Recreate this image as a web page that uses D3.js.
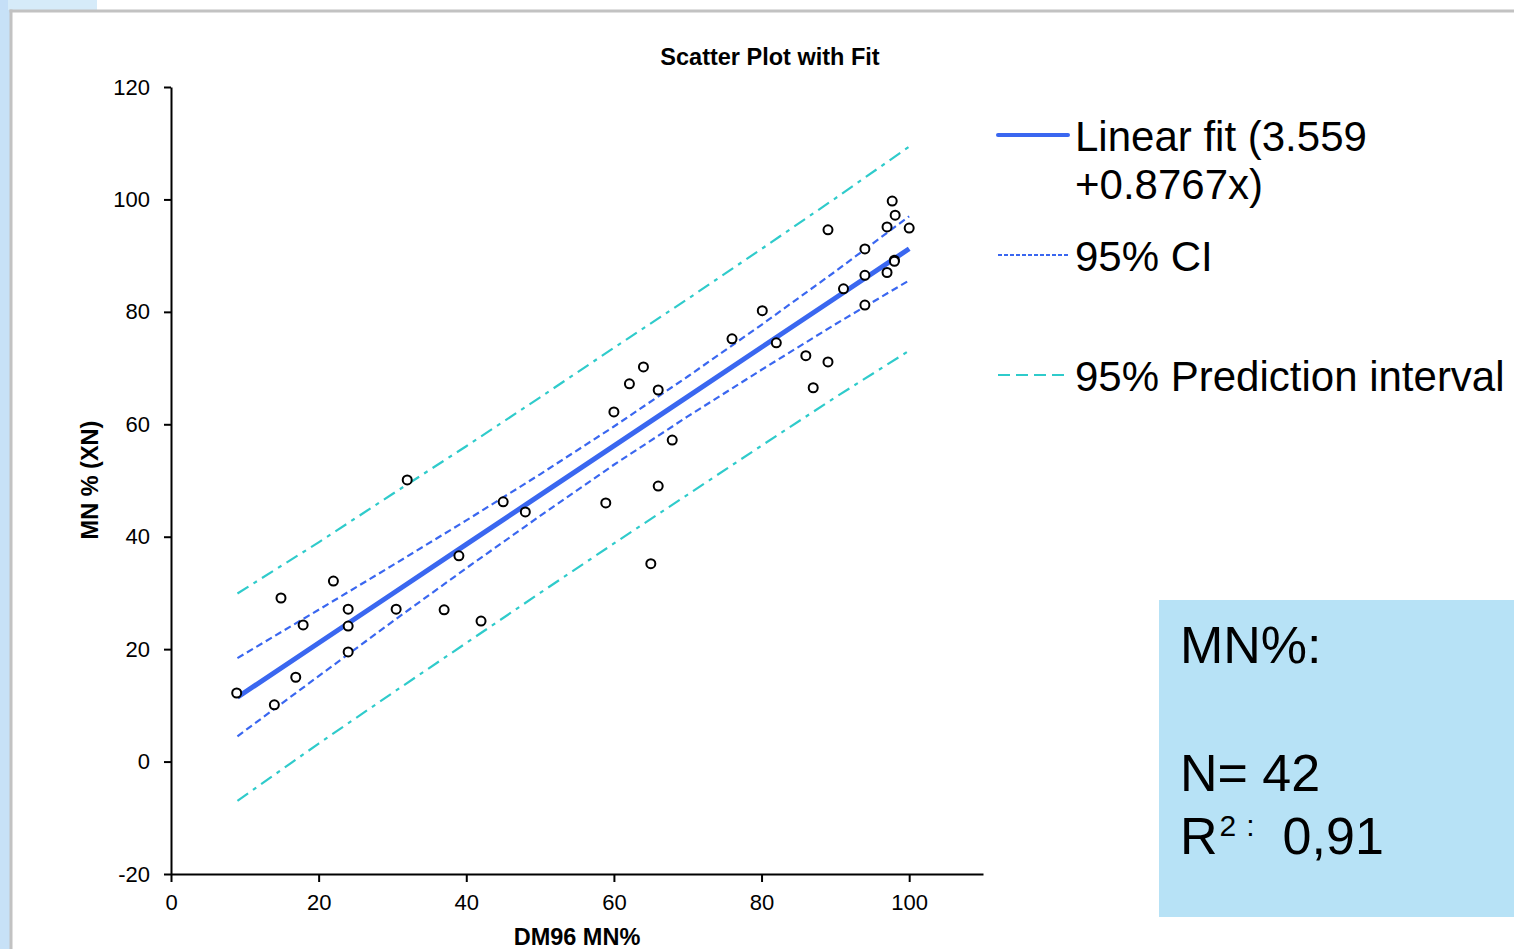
<!DOCTYPE html>
<html>
<head>
<meta charset="utf-8">
<script src="https://cdn.jsdelivr.net/npm/d3@7"></script>
<style>
  body { margin: 0; background: #fff; }
  svg { display: block; font-family: "Liberation Sans", Arial, sans-serif; }
</style>
</head>
<body>
<svg id="chart" width="1514" height="949"></svg>
<script>
// scatter points (DM96 MN%, MN% XN)
var dm96 = [8.9, 14.0, 14.9, 16.9, 17.9, 22.0, 24.0, 24.0, 24.0, 30.5, 32.0, 37.0, 39.0, 42.0,
            45.0, 48.0, 58.9, 60.0, 62.1, 64.0, 66.0, 66.0, 65.0, 67.9, 76.0, 80.1, 82.0, 86.0,
            87.0, 89.0, 89.0, 91.1, 94.0, 94.0, 94.0, 97.0, 97.0, 97.7, 98.1, 98.0, 98.0, 100.0];
var mnXN = [12.2, 10.1, 29.1, 15.0, 24.3, 32.1, 27.1, 24.1, 19.5, 27.1, 50.1, 27.0, 36.6, 25.0,
            46.2, 44.4, 46.0, 62.2, 67.2, 70.2, 66.1, 49.0, 35.2, 57.2, 75.2, 80.2, 74.5, 72.2,
            66.5, 94.6, 71.1, 84.1, 91.2, 86.5, 81.2, 95.1, 87.0, 99.7, 97.2, 89.2, 89.0, 94.9];

// fit line and bands, read at these x values
var bandX   = [9, 20, 30, 40, 50, 60, 70, 80, 90, 100];
var fitY    = [11.45, 21.09, 29.86, 38.63, 47.39, 56.16, 64.93, 73.70, 82.46, 91.23];
var ciUp    = [18.4, 27.0, 34.9, 42.9, 51.1, 59.6, 68.5, 77.7, 87.2, 97.0];
var ciLow   = [4.5, 15.2, 24.9, 34.4, 43.7, 52.8, 61.4, 69.7, 77.8, 85.6];
var piUp    = [29.9, 39.0, 47.6, 56.1, 64.8, 73.6, 82.3, 91.2, 100.2, 109.4];
var piLow   = [-7.0, 3.2, 12.2, 21.1, 30.0, 38.8, 47.5, 56.2, 64.8, 73.1];

var xTicks = [0, 20, 40, 60, 80, 100];
var yTicks = [-20, 0, 20, 40, 60, 80, 100, 120];

var svg = d3.select("#chart");

// page frame bits
svg.append("rect").attr("x", 0).attr("y", 0).attr("width", 10).attr("height", 949).attr("fill", "#c7e1f7");
svg.append("rect").attr("x", 0).attr("y", 0).attr("width", 8).attr("height", 10).attr("fill", "#c5dff7");
svg.append("rect").attr("x", 8).attr("y", 0).attr("width", 89).attr("height", 10).attr("fill", "#d6ebf9");
svg.append("line").attr("x1", 11).attr("x2", 11).attr("y1", 9.5).attr("y2", 949)
   .attr("stroke", "#c2c2c2").attr("stroke-width", 3);
svg.append("line").attr("x1", 9.5).attr("x2", 1514).attr("y1", 11).attr("y2", 11)
   .attr("stroke", "#c2c2c2").attr("stroke-width", 3);

var x = d3.scaleLinear().domain([0, 110]).range([171, 983]);
var y = d3.scaleLinear().domain([-20, 120]).range([874, 87]);

// axes (plain hyphen for negatives like the original)
var fmt = function(d){ return String(d); };
var yAxis = svg.append("g").attr("transform", "translate(171,0)")
  .call(d3.axisLeft(y).tickValues(yTicks).tickFormat(fmt).tickSize(7).tickSizeOuter(0).tickPadding(14));
var xAxis = svg.append("g").attr("transform", "translate(0,874)")
  .call(d3.axisBottom(x).tickValues(xTicks).tickFormat(fmt).tickSize(8).tickSizeOuter(0).tickPadding(12));

[xAxis, yAxis].forEach(function(g){
  g.select(".domain").attr("stroke", "#000").attr("stroke-width", 2);
  g.selectAll(".tick line").attr("stroke", "#000").attr("stroke-width", 2);
  g.selectAll(".tick text").attr("font-size", 22).attr("fill", "#000")
   .attr("font-family", "Liberation Sans, Arial, sans-serif");
});

// lines
var line = d3.line().x(function(d){ return x(d[0]); }).y(function(d){ return y(d[1]); });
function pairs(ys){ return bandX.map(function(v, i){ return [v, ys[i]]; }); }

[piUp, piLow].forEach(function(s){
  svg.append("path").attr("d", line(pairs(s))).attr("fill", "none")
     .attr("stroke", "#2fcbcb").attr("stroke-width", 2.2).attr("stroke-dasharray", "13,6,4,6");
});
[ciUp, ciLow].forEach(function(s){
  svg.append("path").attr("d", line(pairs(s))).attr("fill", "none")
     .attr("stroke", "#3a67f0").attr("stroke-width", 2.2).attr("stroke-dasharray", "7,4");
});
svg.append("path").attr("d", line(pairs(fitY))).attr("fill", "none")
   .attr("stroke", "#3a67f0").attr("stroke-width", 5);

// points
svg.selectAll("circle.pt").data(dm96).enter().append("circle")
  .attr("class", "pt")
  .attr("cx", function(d){ return x(d); })
  .attr("cy", function(d, i){ return y(mnXN[i]); })
  .attr("r", 4.5)
  .attr("fill", "#fff")
  .attr("stroke", "#000")
  .attr("stroke-width", 2);

// titles
svg.append("text").attr("x", 770).attr("y", 65).attr("text-anchor", "middle")
   .attr("font-size", 23.5).attr("font-weight", "bold").text("Scatter Plot with Fit");
svg.append("text").attr("x", 577).attr("y", 945).attr("text-anchor", "middle")
   .attr("font-size", 23.5).attr("font-weight", "bold").text("DM96 MN%");
svg.append("text").attr("transform", "translate(98,480) rotate(-90)").attr("text-anchor", "middle")
   .attr("font-size", 23.5).attr("font-weight", "bold").text("MN % (XN)");

// legend
var legend = svg.append("g");
legend.append("line").attr("x1", 998).attr("x2", 1068).attr("y1", 135).attr("y2", 135)
  .attr("stroke", "#3a67f0").attr("stroke-width", 4).attr("stroke-linecap", "round");
legend.append("line").attr("x1", 998).attr("x2", 1068).attr("y1", 255).attr("y2", 255)
  .attr("stroke", "#3a67f0").attr("stroke-width", 2).attr("stroke-dasharray", "4,2");
legend.append("line").attr("x1", 998).attr("x2", 1068).attr("y1", 375).attr("y2", 375)
  .attr("stroke", "#2fcbcb").attr("stroke-width", 2).attr("stroke-dasharray", "12,6");
var lt = legend.append("text").attr("x", 1075).attr("y", 151).attr("font-size", 42);
lt.append("tspan").attr("x", 1075).text("Linear fit (3.559");
lt.append("tspan").attr("x", 1075).attr("dy", 48).text("+0.8767x)");
legend.append("text").attr("x", 1075).attr("y", 271).attr("font-size", 42).text("95% CI");
legend.append("text").attr("x", 1075).attr("y", 391).attr("font-size", 42).text("95% Prediction interval");

// info box
svg.append("rect").attr("x", 1159).attr("y", 600).attr("width", 355).attr("height", 317).attr("fill", "#b7e2f6");
svg.append("text").attr("x", 1180).attr("y", 663).attr("font-size", 52).text("MN%:");
svg.append("text").attr("x", 1180).attr("y", 791).attr("font-size", 52).text("N= 42");
var r2 = svg.append("text").attr("x", 1180).attr("y", 854).attr("font-size", 52);
r2.append("tspan").text("R");
r2.append("tspan").attr("font-size", 30).attr("dy", -18).attr("dx", 2).text("2");
r2.append("tspan").attr("font-size", 30).attr("dx", 10).text(":");
r2.append("tspan").attr("dy", 18).attr("dx", 28).text("0,91");
</script>
</body>
</html>
